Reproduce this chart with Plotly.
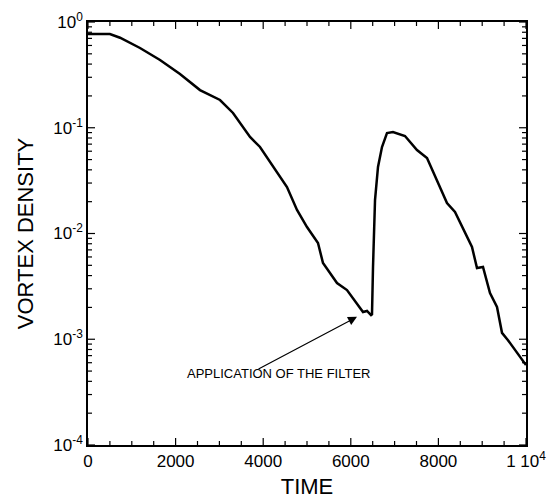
import math
import plotly.graph_objects as go

# Vortex density history; the filter is applied near t = 6450
time = [0, 500, 731, 1187, 1644, 2100, 2557, 3014, 3311, 3699, 3927, 4224, 4543,
        4772, 5000, 5251, 5297, 5365, 5685, 5913, 6279, 6370, 6461, 6484, 6507,
        6553, 6621, 6712, 6826, 6963, 7237, 7511, 7740, 7968, 8196, 8379, 8539,
        8767, 8881, 9018, 9178, 9338, 9452, 9589, 10000]
density = [0.77, 0.77, 0.71, 0.568, 0.437, 0.322, 0.227, 0.183, 0.138, 0.0818,
           0.0658, 0.0426, 0.0275, 0.0167, 0.0115, 0.00813, 0.00698, 0.00526,
           0.0034, 0.00292, 0.00181, 0.00185, 0.00169, 0.00172, 0.00482, 0.0207,
           0.0426, 0.0658, 0.0891, 0.0912, 0.0835, 0.0616, 0.0517, 0.032, 0.0194,
           0.016, 0.0115, 0.00745, 0.00472, 0.00482, 0.00274, 0.00202, 0.00115,
           0.00098, 0.00057]

x_ticks = [0, 2000, 4000, 6000, 8000, 10000]
x_labels = ["0", "2000", "4000", "6000", "8000", "1 10<sup>4</sup>"]
y_ticks = [1e-4, 1e-3, 1e-2, 1e-1, 1]
y_labels = ["10<sup>-4</sup>", "10<sup>-3</sup>", "10<sup>-2</sup>",
            "10<sup>-1</sup>", "10<sup>0</sup>"]

arrow_time = 6142
arrow_density = 0.00163
label_text = "APPLICATION OF THE FILTER"

y_minor = [m * 10.0 ** e for e in range(-4, 0) for m in range(2, 10)]
x_minor = [v for v in range(500, 10000, 500) if v % 2000]

font = "Liberation Sans, Arial, Helvetica, sans-serif"
ML, MR, MT, MB = 88, 24, 22, 55
PW, PH = 550 - ML - MR, 500 - MT - MB
X_RANGE = (0, 10000)
Y_LOG_RANGE = (-4, 0)
MAJOR_LEN, MINOR_LEN = 7, 4

fig = go.Figure()
fig.add_trace(go.Scatter(x=time, y=density, mode="lines",
                         line=dict(color="black", width=2.5), showlegend=False))

# inward tick marks on all four frame sides, built from the tick value lists
x_per_px = (X_RANGE[1] - X_RANGE[0]) / PW
dec_per_px = (Y_LOG_RANGE[1] - Y_LOG_RANGE[0]) / PH
tx, ty = [], []
for vals, length in ((x_ticks, MAJOR_LEN), (x_minor, MINOR_LEN)):
    for v in vals:
        tx += [v, v, None, v, v, None]
        ty += [10 ** Y_LOG_RANGE[0], 10 ** (Y_LOG_RANGE[0] + length * dec_per_px), None,
               10 ** Y_LOG_RANGE[1], 10 ** (Y_LOG_RANGE[1] - length * dec_per_px), None]
for vals, length in ((y_ticks, MAJOR_LEN), (y_minor, MINOR_LEN)):
    for v in vals:
        tx += [X_RANGE[0], X_RANGE[0] + length * x_per_px, None,
               X_RANGE[1], X_RANGE[1] - length * x_per_px, None]
        ty += [v, v, None, v, v, None]
fig.add_trace(go.Scatter(x=tx, y=ty, mode="lines", line=dict(color="black", width=1.2),
                         showlegend=False, hoverinfo="skip", cliponaxis=False))

# log-axis annotations take log10 of the data value
fig.add_annotation(x=arrow_time, y=math.log10(arrow_density), xref="x", yref="y",
                   ax=-100, ay=53, text="", showarrow=True, arrowhead=2,
                   arrowsize=1.5, arrowwidth=1.2, arrowcolor="black")
fig.add_annotation(x=(278 - ML) / PW, y=(MT + PH - 383) / PH, xref="paper",
                   yref="paper", text=label_text, showarrow=False,
                   font=dict(size=13, color="black", family=font))

axis_common = dict(ticks="", showline=True, linecolor="black", linewidth=1.5,
                   mirror=True, showgrid=False, zeroline=False, automargin=False)

fig.update_layout(
    template="simple_white",
    xaxis=dict(range=list(X_RANGE), tickvals=x_ticks, ticktext=x_labels,
               tickfont=dict(size=17, color="black", family=font),
               title=dict(text="TIME", font=dict(size=22, color="black", family=font),
                          standoff=8),
               **axis_common),
    yaxis=dict(type="log", range=list(Y_LOG_RANGE), tickvals=y_ticks, ticktext=y_labels,
               tickfont=dict(size=17, color="black", family=font),
               title=dict(text="VORTEX DENSITY",
                          font=dict(size=22, color="black", family=font),
                          standoff=14),
               **axis_common),
    width=550, height=500, margin=dict(l=ML, r=MR, t=MT, b=MB),
    paper_bgcolor="white", plot_bgcolor="white",
    font=dict(family=font, color="black"),
)

fig.write_html("out.html")
